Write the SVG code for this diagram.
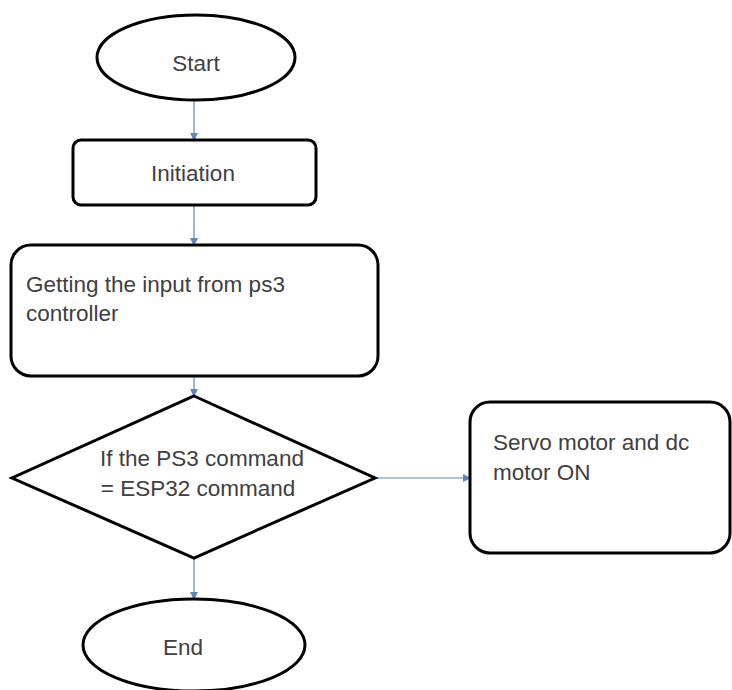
<svg xmlns="http://www.w3.org/2000/svg" width="732" height="690" viewBox="0 0 732 690">
<defs>
<style>
.shape{fill:#fff;stroke:#000;stroke-width:3}
.lbl{font-family:"Liberation Sans",Arial,sans-serif;font-size:22.5px;fill:#404040}
.conn{stroke:#5b87b8;stroke-width:1.2;fill:none}
</style>
<marker id="ah" markerWidth="8" markerHeight="8" refX="7" refY="4" orient="auto" markerUnits="userSpaceOnUse">
<path d="M0,0 L8,4 L0,8 Z" fill="#5b87b8"/>
</marker>
</defs>
<rect width="732" height="690" fill="#fff"/>
<g id="connectors">
<line class="conn" x1="194" y1="100" x2="194" y2="140" marker-end="url(#ah)"/>
<line class="conn" x1="194" y1="205" x2="194" y2="245" marker-end="url(#ah)"/>
<line class="conn" x1="194" y1="376" x2="194" y2="396" marker-end="url(#ah)"/>
<line class="conn" x1="375" y1="478" x2="470" y2="478" marker-end="url(#ah)"/>
<line class="conn" x1="194" y1="558" x2="194" y2="599" marker-end="url(#ah)"/>
</g>
<g id="start">
<ellipse class="shape" cx="196" cy="57.5" rx="99" ry="42.5"/>
<text class="lbl" x="196" y="71" text-anchor="middle">Start</text>
</g>
<g id="initiation">
<rect class="shape" x="73" y="140" width="243" height="65" rx="8"/>
<text class="lbl" x="193" y="181" text-anchor="middle">Initiation</text>
</g>
<g id="input">
<rect class="shape" x="11" y="245" width="367" height="131" rx="20"/>
<text class="lbl" x="26" y="292">Getting the input from ps3</text>
<text class="lbl" x="26" y="321">controller</text>
</g>
<g id="decision">
<polygon class="shape" points="194,396 375,478 194,558 12,478"/>
<text class="lbl" x="202" y="466" text-anchor="middle">If the PS3 command</text>
<text class="lbl" x="198" y="496" text-anchor="middle">= ESP32 command</text>
</g>
<g id="servo">
<rect class="shape" x="470" y="402" width="260" height="151" rx="20"/>
<text class="lbl" x="493" y="450">Servo motor and dc</text>
<text class="lbl" x="493" y="480">motor ON</text>
</g>
<g id="end">
<ellipse class="shape" cx="194" cy="645" rx="111" ry="46"/>
<text class="lbl" x="183" y="655" text-anchor="middle">End</text>
</g>
</svg>
